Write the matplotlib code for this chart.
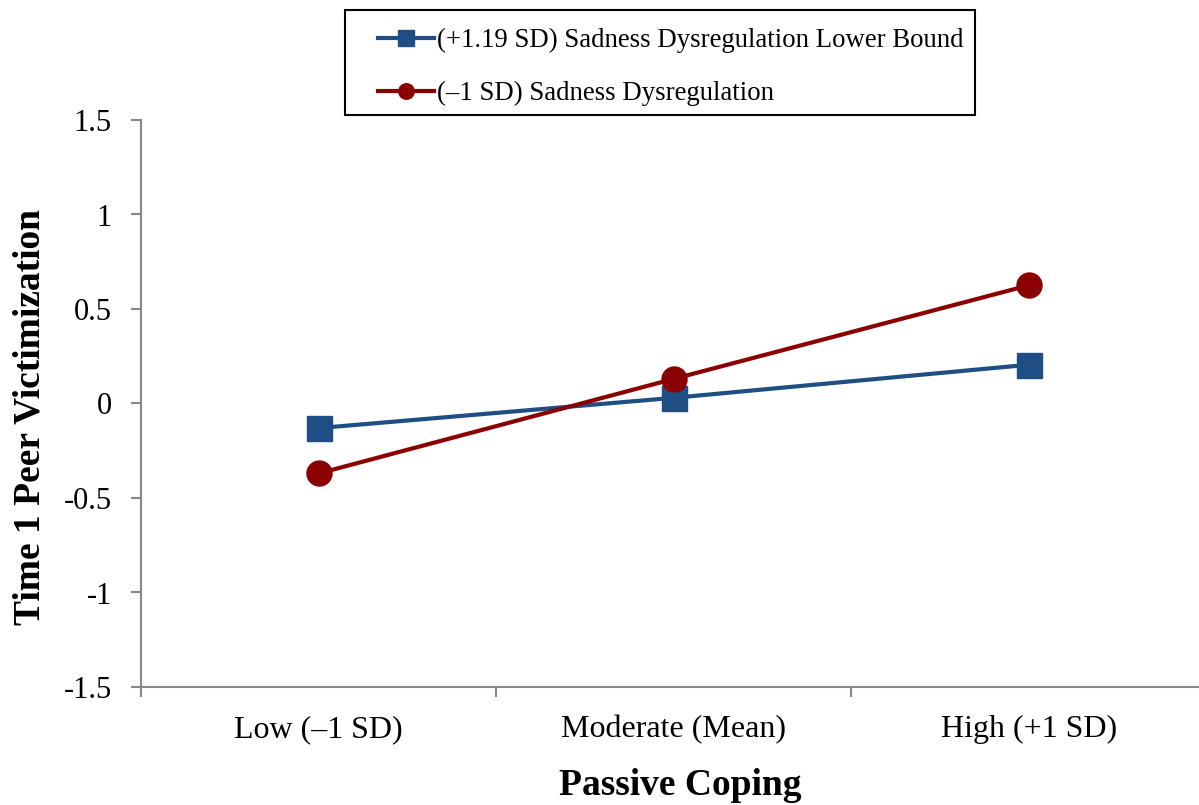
import matplotlib.pyplot as plt
from matplotlib.patches import Rectangle
from matplotlib.ticker import FixedLocator, NullFormatter

plt.rcParams['font.family'] = ['Liberation Serif', 'DejaVu Serif']

categories = ['Low (\u20131 SD)', 'Moderate (Mean)', 'High (+1 SD)']
upper_vals = [-0.13, 0.03, 0.205]
lower_vals = [-0.37, 0.13, 0.625]
upper_label = '(+1.19 SD) Sadness Dysregulation Lower Bound'
lower_label = '(\u20131 SD) Sadness Dysregulation'
y_ticks = [-1.5, -1, -0.5, 0, 0.5, 1, 1.5]
y_tick_labels = ['-1.5', '-1', '-0.5', '0', '0.5', '1', '1.5']

blue = '#1F4E85'
red = '#8B0000'
W, H = 1199, 805

fig = plt.figure(figsize=(W / 100, H / 100), dpi=100)
ax = fig.add_axes([141 / W, 1 - 687 / H, 1 - 141 / W, (687 - 120) / H])

x = list(range(len(categories)))
ax.plot(x, upper_vals, color=blue, lw=3, marker='s', ms=18, label=upper_label)
ax.plot(x, lower_vals, color=red, lw=3, marker='o', ms=18, label=lower_label)

ax.set_ylim(-1.5, 1.5)
ax.set_xlim(-0.5, 2.48)
ax.set_yticks(y_ticks)
ax.set_yticklabels(y_tick_labels)
ax.set_xticks(x)
ax.set_xticklabels(categories)
ax.xaxis.set_minor_locator(FixedLocator([-0.5, 0.5, 1.5]))
ax.xaxis.set_minor_formatter(NullFormatter())

for s in ['top', 'right']:
    ax.spines[s].set_visible(False)
for s in ['left', 'bottom']:
    ax.spines[s].set_color('#888888')
    ax.spines[s].set_linewidth(1.5)

ax.tick_params(axis='y', direction='out', length=7, width=1.5, color='#888888',
               labelsize=22, pad=14)
ax.tick_params(axis='x', which='major', length=0, labelsize=23, pad=20)
ax.tick_params(axis='x', which='minor', direction='out', length=7, width=1.5, color='#888888')

ax.set_ylabel('Time 1 Peer Victimization', fontsize=27, fontweight='bold')
ax.set_xlabel('Passive Coping', fontsize=27, fontweight='bold')
ax.yaxis.set_label_coords((48 - 141) / 1058, (687 - 417) / 567)
ax.xaxis.set_label_coords((680 - 141) / 1058, (687 - 768) / 567)

# legend text and handles, frame drawn separately
leg = fig.legend(loc='upper left', bbox_to_anchor=(378 / W, 1 - 28 / H),
                 fontsize=19.3, frameon=False, markerscale=0.62,
                 handlelength=2.1, handletextpad=0.1,
                 labelspacing=1.05, borderpad=0, borderaxespad=0)
fig.patches.append(Rectangle((345 / W, 1 - 115 / H), 630 / W, 105 / H,
                             transform=fig.transFigure, fill=False,
                             edgecolor='black', linewidth=1.5))

fig.savefig('out.png', dpi=100)
